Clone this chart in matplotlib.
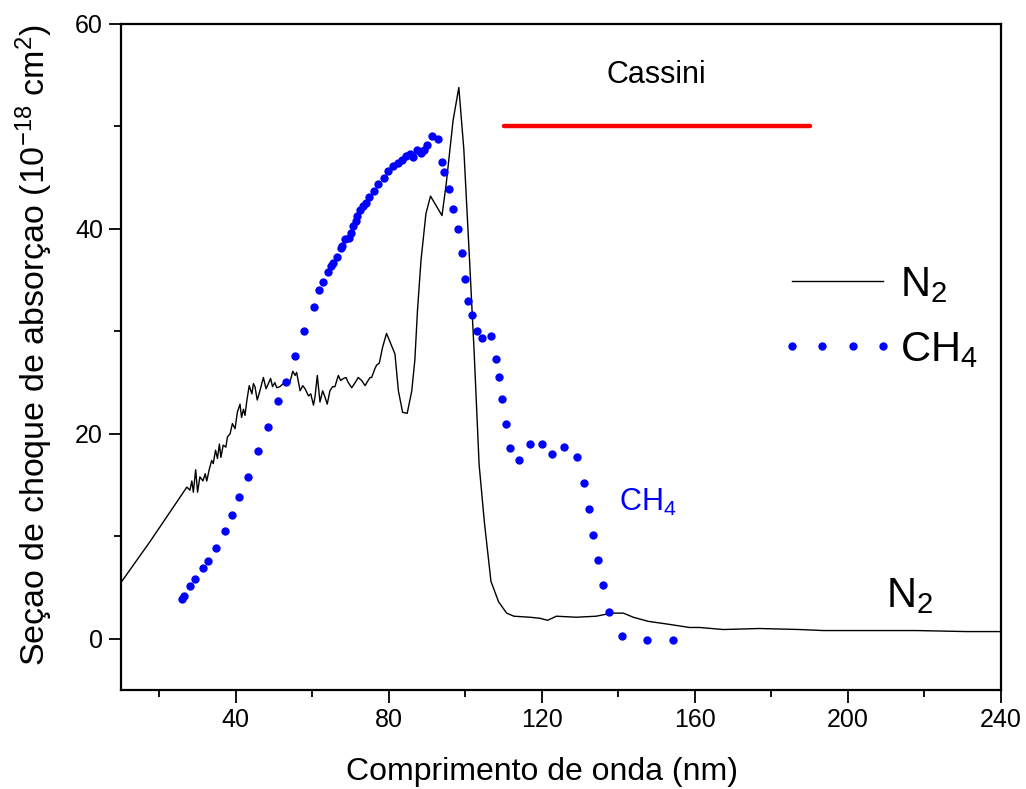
import matplotlib
matplotlib.use("Agg")
import matplotlib.pyplot as plt
from matplotlib.ticker import MultipleLocator

plt.rcParams['font.family'] = ['Liberation Sans', 'DejaVu Sans']
plt.rcParams['mathtext.fontset'] = 'custom'
plt.rcParams['mathtext.rm'] = 'Liberation Sans'
plt.rcParams['mathtext.it'] = 'Liberation Sans:italic'
plt.rcParams['mathtext.bf'] = 'Liberation Sans:bold'

# ---- data ----
n2_x = [10, 17.6, 27.2, 28.0, 28.5, 28.9, 29.5, 30.0, 30.6, 31.4,
        32.0, 32.4, 33.1, 33.7, 34.1, 34.7, 35.2, 35.7, 36.1, 36.7,
        37.4, 37.8, 38.5, 39.1, 39.8, 40.4, 41.1, 41.5, 42.0, 42.4,
        42.9, 43.5, 44.2, 44.6, 45.0, 45.6, 46.3, 47.2, 47.9, 48.5,
        49.1, 49.6, 50.2, 50.7, 51.5, 52.4, 53.3, 54.1, 54.9, 55.5,
        55.9, 56.8, 57.5, 58.1, 59.0, 59.6, 60.3, 60.7, 61.3, 62.0,
        62.7, 63.3, 63.9, 64.6, 65.3, 65.9, 66.8, 67.4, 68.1, 68.8,
        69.4, 70.3, 71.2, 72.0, 72.9, 73.8, 74.4, 75.1, 75.5, 76.4,
        76.8, 77.5, 78.4, 79.4, 80.5, 81.6, 82.5, 83.6, 84.8, 86.0,
        86.8, 87.5, 88.4, 89.7, 90.9, 93.9, 95.0, 96.8, 98.3, 99.6,
        101.0, 102.3, 103.6, 105.0, 106.7, 108.7, 110.8, 112.7, 116.9, 119.5,
        121.5, 123.8, 129.0, 134.2, 136.9, 138.7, 141.3, 143.9, 147.8, 153.4,
        158.6, 161.3, 167.4, 176.9, 187.4, 193.6, 204.9, 218.0, 231.1, 240]
n2_y = [5.5, 9.5, 14.8, 14.5, 15.4, 14.3, 16.5, 14.3, 15.8, 15.4,
        16.1, 15.4, 16.6, 17.4, 17.1, 18.4, 17.6, 19.0, 17.7, 18.9,
        18.7, 19.7, 20.0, 21.0, 20.5, 22.1, 22.9, 21.6, 22.4, 21.8,
        23.3, 24.7, 23.9, 24.9, 24.6, 23.3, 24.2, 25.5, 24.4, 24.9,
        25.4, 24.6, 25.0, 24.5, 24.6, 24.9, 25.2, 25.0, 26.1, 25.7,
        26.0, 24.2, 24.7, 24.4, 23.7, 23.9, 22.8, 23.6, 25.7, 23.1,
        24.2, 23.6, 22.9, 24.2, 24.6, 24.6, 25.7, 25.2, 25.4, 25.5,
        25.0, 24.5, 25.0, 25.5, 25.2, 24.7, 25.1, 25.5, 25.5, 26.4,
        26.7, 26.9, 28.5, 29.8, 28.8, 27.8, 24.2, 22.1, 22.0, 24.2,
        27.2, 32.1, 36.9, 41.5, 43.2, 41.3, 44.4, 50.6, 53.8, 47.8,
        37.7, 28.0, 17.0, 11.3, 5.6, 3.6, 2.5, 2.2, 2.1, 2.0,
        1.8, 2.2, 2.1, 2.2, 2.4, 2.5, 2.5, 2.1, 1.7, 1.4,
        1.1, 1.1, 0.9, 1.0, 0.9, 0.8, 0.8, 0.8, 0.7, 0.7]

ch4_x = [25.9, 26.5, 28.0, 29.3, 31.4, 32.8, 34.8, 37.1, 39.1, 40.8,
         43.2, 45.8, 48.5, 51.1, 53.0, 55.4, 57.8, 60.5, 61.8, 62.9,
         64.2, 64.9, 65.5, 66.4, 67.4, 67.7, 68.5, 69.5, 70.0, 70.7,
         71.3, 71.8, 72.5, 73.2, 74.0, 74.8, 76.1, 77.1, 78.7, 79.9,
         81.0, 82.3, 83.4, 84.5, 85.5, 86.2, 87.3, 88.3, 89.2, 90.1,
         91.4, 92.9, 93.8, 94.5, 95.7, 96.9, 98.2, 99.1, 99.9, 100.8,
         101.8, 103.0, 104.4, 106.7, 108.0, 108.9, 109.6, 110.5, 111.6, 114.0,
         116.9, 120.1, 122.7, 125.7, 129.1, 131.1, 132.4, 133.5, 134.7, 136.0,
         137.6, 141.0, 147.6, 154.2]
ch4_y = [3.9, 4.2, 5.1, 5.8, 6.9, 7.6, 8.9, 10.5, 12.1, 13.8,
         15.8, 18.3, 20.7, 23.2, 25.1, 27.6, 30.0, 32.4, 34.0, 34.8,
         35.8, 36.4, 36.7, 37.3, 38.1, 38.3, 39.0, 39.1, 39.6, 40.3,
         40.8, 41.3, 41.8, 42.2, 42.5, 43.1, 43.7, 44.4, 45.0, 45.7,
         46.1, 46.4, 46.7, 47.1, 47.3, 47.0, 47.7, 47.4, 47.7, 48.2,
         49.1, 48.8, 46.5, 45.6, 43.9, 41.9, 40.0, 37.6, 35.1, 33.0,
         31.6, 30.0, 29.4, 29.5, 27.3, 25.5, 23.4, 21.0, 18.6, 17.4,
         19.0, 19.0, 18.0, 18.7, 17.7, 15.2, 12.7, 10.1, 7.7, 5.2,
         2.6, 0.3, -0.1, -0.1]

cassini_x = [110, 190]
cassini_y = [50, 50]

# ---- figure ----
fig = plt.figure(figsize=(10.26, 7.89), dpi=100)
ax = fig.add_axes([0.118, 0.1255, 0.8575, 0.8441])

ax.plot(n2_x, n2_y, color='black', lw=1.0, label=r'$\mathregular{N_2}$')
ax.plot(ch4_x, ch4_y, linestyle='none', marker='o', ms=6, mec='none',
        color='#0000ff', label=r'$\mathregular{CH_4}$')
ax.plot(cassini_x, cassini_y, color='#ff0000', lw=3.2, solid_capstyle='round')

ax.text(150, 55, 'Cassini', fontsize=22, ha='center', va='center')
ax.text(140.2, 12.5, r'$\mathregular{CH_4}$', fontsize=22, color='#0000ff',
        ha='left', va='baseline')
ax.text(210.0, 3.1, r'$\mathregular{N_2}$', fontsize=30, color='black',
        ha='left', va='baseline')

ax.set_xlim(10, 240)
ax.set_ylim(-5, 60)
ax.xaxis.set_major_locator(MultipleLocator(40))
ax.xaxis.set_minor_locator(MultipleLocator(20))
ax.yaxis.set_major_locator(MultipleLocator(20))
ax.yaxis.set_minor_locator(MultipleLocator(10))
ax.tick_params(which='major', direction='out', length=9, width=1.3, labelsize=18, pad=4)
ax.tick_params(which='minor', direction='out', length=5, width=1.3)
for s in ax.spines.values():
    s.set_linewidth(1.6)

ax.set_xlabel('Comprimento de onda (nm)', fontsize=23)
ax.xaxis.set_label_coords(0.479, -0.1)
ax.set_ylabel(r'Seçao de choque de absorçao $\mathregular{(10^{-18}\ cm^2)}$', fontsize=24.5)
ax.yaxis.set_label_coords(-0.075, 0.518)

leg = ax.legend(loc='upper left', bbox_to_anchor=(0.748, 0.638), frameon=False,
                fontsize=30, handlelength=2.8, handletextpad=0.1, numpoints=4,
                labelspacing=0.6, borderaxespad=0, borderpad=0)

fig.savefig('out.png', dpi=100)
